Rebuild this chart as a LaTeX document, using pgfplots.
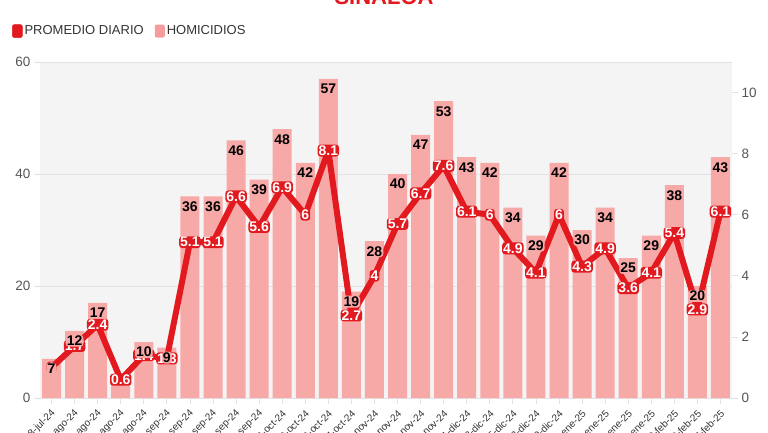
\documentclass[border=0pt]{standalone}
\usepackage{pgfplots}
\pgfplotsset{compat=1.18}
\usepackage{pgfplotstable}
\usepackage{fontspec}
\setmainfont{Liberation Sans}
\definecolor{barpink}{HTML}{F7A9A8}
\definecolor{legpink}{HTML}{F79C9C}
\definecolor{linered}{HTML}{E2191E}
\definecolor{bggrey}{HTML}{F4F4F4}
\definecolor{gridgrey}{HTML}{E2E2E2}
\definecolor{ticktext}{HTML}{555555}
\definecolor{legtext}{HTML}{333333}

\pgfplotstableread{
idx lab h p
0 28-jul-24 7 1
1 04-ago-24 12 1.7
2 11-ago-24 17 2.4
3 18-ago-24 4 0.6
4 25-ago-24 10 1.4
5 01-sep-24 9 1.3
6 08-sep-24 36 5.1
7 15-sep-24 36 5.1
8 22-sep-24 46 6.6
9 29-sep-24 39 5.6
10 06-oct-24 48 6.9
11 13-oct-24 42 6
12 20-oct-24 57 8.1
13 27-oct-24 19 2.7
14 03-nov-24 28 4
15 10-nov-24 40 5.7
16 17-nov-24 47 6.7
17 24-nov-24 53 7.6
18 01-dic-24 43 6.1
19 08-dic-24 42 6
20 15-dic-24 34 4.9
21 22-dic-24 29 4.1
22 29-dic-24 42 6
23 05-ene-25 30 4.3
24 12-ene-25 34 4.9
25 19-ene-25 25 3.6
26 26-ene-25 29 4.1
27 02-feb-25 38 5.4
28 09-feb-25 20 2.9
29 16-feb-25 43 6.1
}\data

\pgfplotsset{
  base/.style={
    scale only axis, width=692pt, height=336pt,
    at={(40pt,34pt)}, anchor=south west,
    xmin=-0.5, xmax=29.5, enlargelimits=false,
    /pgf/number format/assume math mode=true,
  }
}

\begin{document}
\begin{tikzpicture}[x=1pt,y=1pt]
% bars, left axis
\begin{axis}[base,
  ymin=0, ymax=60,
  ytick={0,20,40,60},
  axis background/.style={fill=bggrey},
  axis line style={draw=none},
  ymajorgrids, grid style={gridgrey, line width=0.8pt},
  tick align=outside, major tick length=6pt,
  tick style={gridgrey, line width=0.8pt},
  xtick=data, xticklabels from table={\data}{lab},
  x tick label style={xshift=3pt, yshift=-7pt, rotate=45, anchor=east, font=\fontsize{10}{12}\selectfont, text=legtext, inner sep=1pt},
  y tick label style={font=\fontsize{13.5}{15}\selectfont, text=ticktext},
  ytick pos=left, xtick pos=bottom,
  legend columns=2,
  legend style={at={(rel axis cs:-0.0405,1.092)}, anchor=west, draw=none, fill=none,
    font=\fontsize{13}{15}\selectfont, text=legtext, inner sep=0pt,
    /tikz/every even column/.append style={column sep=9pt}},
  legend cell align=left,
]
\addlegendimage{legend image code/.code={\fill[linered, rounded corners=2pt] (0pt,-6.5pt) rectangle (10pt,6.5pt);}}
\addlegendentry{PROMEDIO DIARIO}
\addplot[ybar, bar width=19pt, fill=barpink, draw=none,
  legend image code/.code={\fill[legpink, rounded corners=2pt] (0pt,-6.5pt) rectangle (10pt,6.5pt);}]
  table[x=idx, y=h] {\data};
\addlegendentry{HOMICIDIOS}
\end{axis}
% line, right axis
\begin{axis}[base,
  ymin=0, ymax=11,
  ytick={0,2,...,10},
  axis x line=none,
  axis y line*=right,
  axis line style={draw=none},
  tick align=outside, major tick length=6pt,
  tick style={gridgrey, line width=0.8pt},
  y tick label style={font=\fontsize{13.5}{15}\selectfont, text=ticktext},
  clip=false,
]
\addplot[linered, line width=6pt, line join=round, line cap=round, mark=none,
  nodes near coords,
  every node near coord/.append style={anchor=center, text=white,
    font=\bfseries\fontsize{14}{16}\selectfont, fill=linered,
    rounded corners=3pt, inner sep=1pt}]
  table[x=idx, y=p] {\data};
\end{axis}
% bar labels on top
\begin{axis}[base, ymin=0, ymax=60, hide axis, clip=false]
\addplot[draw=none, mark=none, skip coords between index={3}{4},
  nodes near coords,
  every node near coord/.append style={anchor=center, yshift=-10pt, text=black,
    font=\bfseries\fontsize{14}{16}\selectfont, fill=barpink,
    rounded corners=3pt, inner sep=1pt}]
  table[x=idx, y=h] {\data};
\end{axis}
\node[anchor=base, text=linered, font=\bfseries\fontsize{22}{24}\selectfont] at (384,427) {SINALOA};
\pgfresetboundingbox
\useasboundingbox (0,0) rectangle (768,432);
\end{tikzpicture}
\end{document}
